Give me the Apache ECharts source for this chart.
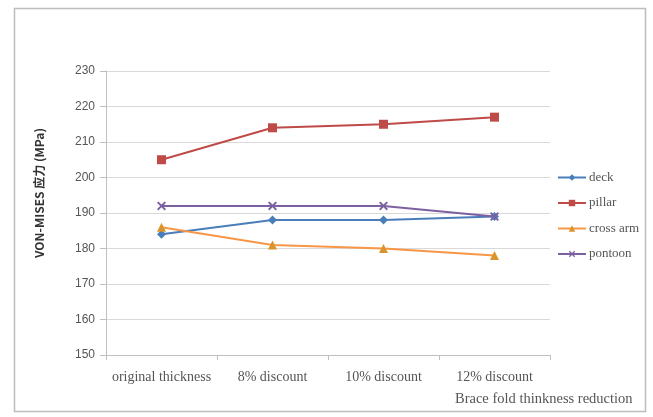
<!DOCTYPE html>
<html><head><meta charset="utf-8">
<script src="https://cdn.jsdelivr.net/npm/echarts@6/dist/echarts.min.js"></script>
<style>html,body{margin:0;padding:0;background:#fff}#c{width:653px;height:417px}</style>
</head><body><div id="c"></div>
<script>
const categories = ['original thickness', '8% discount', '10% discount', '12% discount'];
const deck = [184, 188, 188, 189];
const pillar = [205, 214, 215, 217];
const crossArm = [186, 181, 180, 178];
const pontoon = [192, 192, 192, 189];
const yTicks = {min: 150, max: 230, interval: 10};

const serif = '"Liberation Serif", "DejaVu Serif", serif';
const sans = '"Liberation Sans", "DejaVu Sans", sans-serif';
const xPath = 'path://M0,1.5L1.5,0L5,3.5L8.5,0L10,1.5L6.5,5L10,8.5L8.5,10L5,6.5L1.5,10L0,8.5L3.5,5Z';

const chart = echarts.init(document.getElementById('c'));
function line(name, data, color, symbol, size, mColor) {
  return {
    name, type: 'line', data, symbol, symbolSize: size,
    lineStyle: {color, width: 2},
    itemStyle: {color: mColor || color},
    emphasis: {disabled: true}
  };
}
chart.setOption({
  animation: false,
  graphic: [
    {type: 'rect', shape: {x: 14.5, y: 8.5, width: 631, height: 403},
     style: {fill: 'none', stroke: '#bdbdbd', lineWidth: 1.5}, silent: true},
    {type: 'text', left: 455, top: 392,
     style: {text: 'Brace fold thinkness reduction', font: '14.5px ' + serif, fill: '#555'}},
    {type: 'text', x: 39, y: 193, rotation: Math.PI / 2,
     style: {text: 'VON-MISES 应力 (MPa)', font: 'bold 12px "Noto Sans CJK SC", ' + sans,
             fill: '#333', align: 'center', verticalAlign: 'middle'}}
  ],
  grid: {left: 106, right: 103, top: 71, bottom: 62},
  legend: {
    orient: 'vertical', left: 552, top: 166, itemGap: 12.5, itemWidth: 28, itemHeight: 8,
    textStyle: {fontFamily: serif, fontSize: 13, color: '#555', padding: [0, 0, 0, -2]},
    data: ['deck', 'pillar', 'cross arm', 'pontoon']
  },
  xAxis: {
    type: 'category', data: categories, boundaryGap: true,
    axisLine: {lineStyle: {color: '#bfbfbf'}},
    axisTick: {show: true, interval: 0, length: 5, lineStyle: {color: '#bfbfbf'}},
    axisLabel: {interval: 0, fontFamily: serif, fontSize: 14, color: '#555', margin: 15},
    splitLine: {show: false}
  },
  yAxis: {
    type: 'value', min: yTicks.min, max: yTicks.max, interval: yTicks.interval,
    axisLine: {show: true, lineStyle: {color: '#bfbfbf'}},
    axisTick: {show: true, length: 6, lineStyle: {color: '#bfbfbf'}},
    axisLabel: {fontFamily: sans, fontSize: 12, color: '#555', margin: 11},
    splitLine: {lineStyle: {color: '#d9d9d9'}}
  },
  series: [
    line('deck', deck, '#4a7ebb', 'diamond', 9),
    line('pillar', pillar, '#be4b48', 'rect', 9),
    line('cross arm', crossArm, '#f79646', 'triangle', 9, '#d9952b'),
    line('pontoon', pontoon, '#7d60a0', xPath, 9)
  ]
});
</script></body></html>
